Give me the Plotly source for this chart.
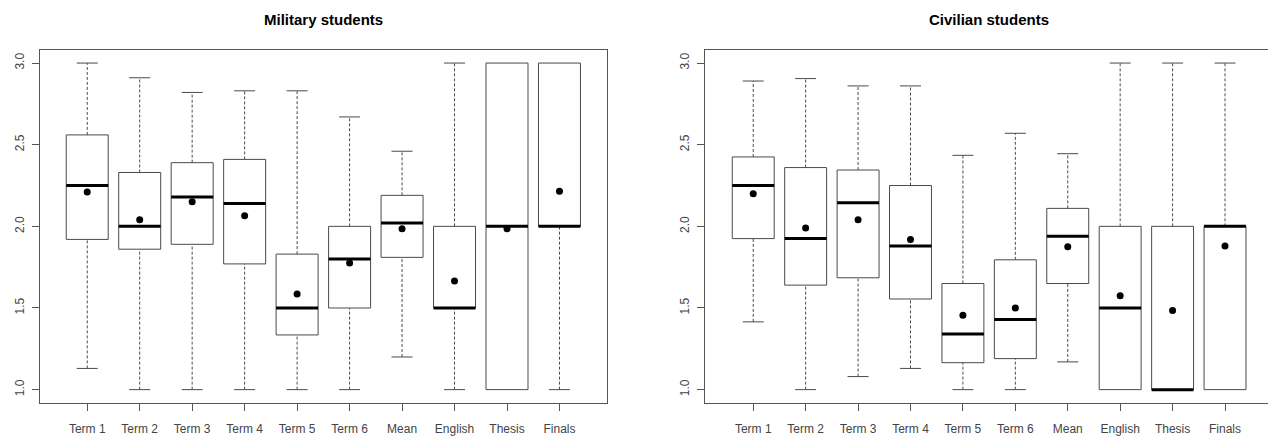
import plotly.graph_objects as go

categories = ["Term 1", "Term 2", "Term 3", "Term 4", "Term 5", "Term 6",
              "Mean", "English", "Thesis", "Finals"]

mil_lower = [1.13, 1.0, 1.0, 1.0, 1.0, 1.0, 1.20, 1.0, 1.0, 1.0]
mil_q1 = [1.92, 1.86, 1.89, 1.77, 1.335, 1.5, 1.81, 1.5, 1.0, 2.0]
mil_med = [2.25, 2.0, 2.18, 2.14, 1.5, 1.8, 2.02, 1.5, 2.0, 2.0]
mil_q3 = [2.56, 2.33, 2.39, 2.41, 1.83, 2.0, 2.19, 2.0, 3.0, 3.0]
mil_upper = [3.0, 2.91, 2.82, 2.83, 2.83, 2.67, 2.46, 3.0, 3.0, 3.0]
mil_mean = [2.21, 2.04, 2.15, 2.065, 1.585, 1.775, 1.985, 1.665, 1.985, 2.215]

civ_lower = [1.415, 1.0, 1.08, 1.13, 1.0, 1.0, 1.17, 1.0, 1.0, 1.0]
civ_q1 = [1.925, 1.64, 1.685, 1.555, 1.165, 1.19, 1.65, 1.0, 1.0, 1.0]
civ_med = [2.25, 1.925, 2.145, 1.88, 1.34, 1.43, 1.94, 1.5, 1.0, 2.0]
civ_q3 = [2.425, 2.36, 2.345, 2.25, 1.65, 1.795, 2.11, 2.0, 2.0, 2.0]
civ_upper = [2.89, 2.905, 2.86, 2.86, 2.435, 2.57, 2.445, 3.0, 3.0, 3.0]
civ_mean = [2.2, 1.99, 2.04, 1.92, 1.455, 1.5, 1.875, 1.575, 1.485, 1.88]

panel_titles = ["Military students", "Civilian students"]
y_ticks = [1.0, 1.5, 2.0, 2.5, 3.0]

W, H = 1268, 438
BOX_HALF = 0.4
CAP_HALF = 0.2
LINE_C = "#4a4a4a"
TEXT_C = "#444444"
FONT = "Liberation Sans, Arial, sans-serif"

fig = go.Figure()


def add_panel(xa, ya, lower, q1, med, q3, upper, mean):
    pos = list(range(1, len(categories) + 1))
    bx, by = [], []
    wx, wy = [], []
    cx, cy = [], []
    mx, my = [], []
    for i, p in enumerate(pos):
        bx += [p - BOX_HALF, p + BOX_HALF, p + BOX_HALF, p - BOX_HALF, p - BOX_HALF, None]
        by += [q1[i], q1[i], q3[i], q3[i], q1[i], None]
        if upper[i] > q3[i]:
            wx += [p, p, None]
            wy += [q3[i], upper[i], None]
            cx += [p - CAP_HALF, p + CAP_HALF, None]
            cy += [upper[i], upper[i], None]
        if lower[i] < q1[i]:
            wx += [p, p, None]
            wy += [lower[i], q1[i], None]
            cx += [p - CAP_HALF, p + CAP_HALF, None]
            cy += [lower[i], lower[i], None]
        mx += [p - BOX_HALF, p + BOX_HALF, None]
        my += [med[i], med[i], None]
    common = dict(xaxis=xa, yaxis=ya, showlegend=False, hoverinfo="skip")
    fig.add_trace(go.Scatter(x=wx, y=wy, mode="lines",
                             line=dict(color=LINE_C, width=1, dash="3px,2px"), **common))
    fig.add_trace(go.Scatter(x=cx, y=cy, mode="lines",
                             line=dict(color=LINE_C, width=1), **common))
    fig.add_trace(go.Scatter(x=bx, y=by, mode="lines",
                             line=dict(color=LINE_C, width=1), **common))
    fig.add_trace(go.Scatter(x=mx, y=my, mode="lines",
                             line=dict(color="black", width=3), **common))
    fig.add_trace(go.Scatter(x=pos, y=mean, mode="markers",
                             marker=dict(color="black", size=7), **common))


add_panel("x", "y", mil_lower, mil_q1, mil_med, mil_q3, mil_upper, mil_mean)
add_panel("x2", "y2", civ_lower, civ_q1, civ_med, civ_q3, civ_upper, civ_mean)

ydom = [(H - 402.7) / H, (H - 50) / H]
d1 = [40 / W, 606.7 / W]
d2 = [705 / W, 1.0]

xcommon = dict(
    tickmode="array", tickvals=list(range(1, len(categories) + 1)), ticktext=categories,
    showgrid=False, zeroline=False, showline=True, mirror=True,
    linecolor="#555555", linewidth=1, ticks="outside", ticklen=7, tickcolor="#555555",
    ticklabelstandoff=8,
    tickfont=dict(family=FONT, size=12, color=TEXT_C),
)
ycommon = dict(
    tickmode="array", tickvals=y_ticks, ticktext=[f"{v:.1f}" for v in y_ticks],
    range=[0.92, 3.08], showgrid=False, zeroline=False, showline=True,
    linecolor="#555555", linewidth=1, ticks="outside", ticklen=7, tickcolor="#555555",
    tickangle=-90, ticklabelstandoff=3,
    tickfont=dict(family=FONT, size=12, color=TEXT_C),
)

fig.update_layout(
    width=W, height=H,
    margin=dict(l=0, r=0, t=0, b=0),
    paper_bgcolor="white", plot_bgcolor="white",
    xaxis=dict(domain=d1, range=[0.1, 10.9], anchor="y", **xcommon),
    yaxis=dict(domain=ydom, anchor="x", mirror=True, **ycommon),
    xaxis2=dict(domain=d2, range=[0.08, 10.82], anchor="y2", **xcommon),
    yaxis2=dict(domain=ydom, anchor="x2", mirror=False, **ycommon),
)

title_centers = [(40 + 606.7) / 2 / W, (705 + 1272) / 2 / W]
for t, cxp in zip(panel_titles, title_centers):
    fig.add_annotation(text=f"<b>{t}</b>", x=cxp, y=1 - 19 / H, xref="paper", yref="paper",
                       xanchor="center", yanchor="middle", showarrow=False,
                       font=dict(family=FONT, size=15, color="black"))

fig.write_html("out.html", config={"displayModeBar": False},
               post_script="document.body.style.margin='0';document.body.style.overflow='hidden';")
